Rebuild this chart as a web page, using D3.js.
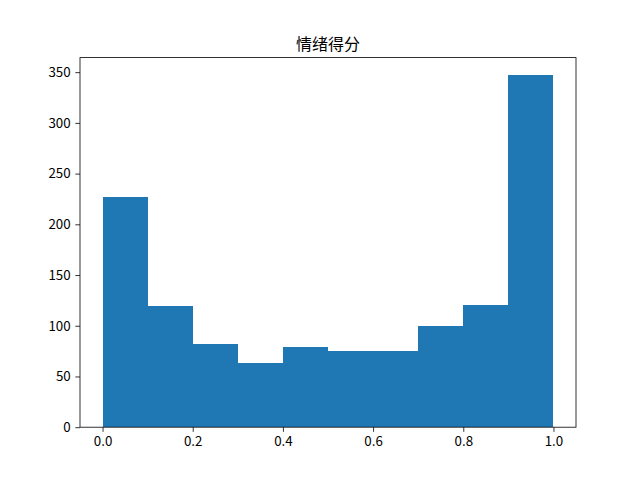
<!DOCTYPE html>
<html><head><meta charset="utf-8">
<script src="https://cdn.jsdelivr.net/npm/d3@7"></script>
<style>body{margin:0;background:#fff}</style>
</head><body>
<script>
const title = "情绪得分";
const binEdges = [0.0,0.1,0.2,0.3,0.4,0.5,0.6,0.7,0.8,0.9,1.0];
const counts = [227,119,82,63,79,75,75,100,120,347];
const xTicks = [0.0,0.2,0.4,0.6,0.8,1.0];
const yTicks = [0,50,100,150,200,250,300,350];

const W=640,H=480, L=80, R=576, T=57.6, B=427.2;
const font = "'Noto Sans CJK SC','DejaVu Sans',sans-serif";
const svg = d3.select("body").append("svg").attr("width",W).attr("height",H);
const x = d3.scaleLinear().domain([-0.05,1.05]).range([L,R]);
const yMax = d3.max(counts)*1.05;
const y = d3.scaleLinear().domain([0,yMax]).range([B,T]);

const bins = counts.map((c,i)=>({x0:binEdges[i],x1:binEdges[i+1],c}));
svg.append("g").selectAll("rect").data(bins).join("rect")
  .attr("x",d=>x(d.x0)).attr("width",d=>x(d.x1)-x(d.x0))
  .attr("y",d=>y(d.c)).attr("height",d=>y(0)-y(d.c))
  .attr("fill","#1f77b4").attr("shape-rendering","crispEdges");

const xa = svg.append("g").attr("transform",`translate(0,${B})`)
  .call(d3.axisBottom(x).tickValues(xTicks).tickFormat(d3.format(".1f")).tickSize(4.67).tickPadding(4.67));
const ya = svg.append("g").attr("transform",`translate(${L},0)`)
  .call(d3.axisLeft(y).tickValues(yTicks).tickFormat(d3.format("d")).tickSize(4.67).tickPadding(4.67));
[xa,ya].forEach(a=>{
  a.select(".domain").remove();
  a.selectAll("line").attr("stroke","#000").attr("stroke-width",0.8);
  a.selectAll("text").attr("font-family",font).attr("font-size","13.33px").attr("fill","#000");
});
svg.append("rect").attr("x",L).attr("y",T).attr("width",R-L).attr("height",B-T)
  .attr("fill","none").attr("stroke","#000").attr("stroke-width",0.8);
svg.append("text").attr("x",(L+R)/2).attr("y",T-8).attr("text-anchor","middle")
  .attr("font-family",font).attr("font-size","16px").attr("fill","#000").text(title);
</script>
</body></html>
